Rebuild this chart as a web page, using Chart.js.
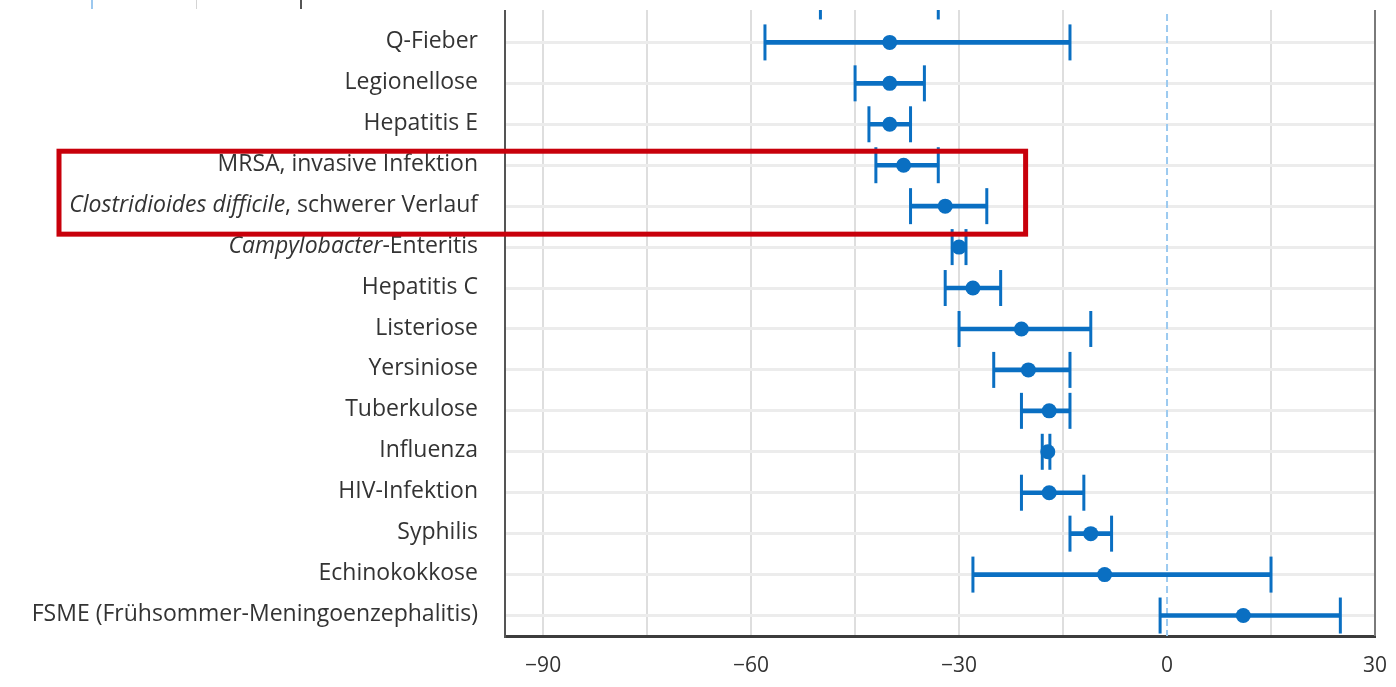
<!DOCTYPE html>
<html lang="de">
<head>
<meta charset="utf-8">
<title>Forest plot</title>
<script src="https://cdn.jsdelivr.net/npm/chart.js@4.4.1/dist/chart.umd.min.js"></script>
<style>
  html, body { margin: 0; padding: 0; background: #fff; overflow: hidden; width: 1396px; height: 687px; }
  #wrap { position: absolute; left: 0; top: -60px; width: 1396px; height: 746px; }
  #topMask { position: absolute; left: 0; top: 0; width: 1396px; height: 10px; background: #fff; }
  .frag { position: absolute; top: 0; height: 9px; }
</style>
</head>
<body>
<div id="wrap"><canvas id="forestChart"></canvas></div>
<div id="topMask">
  <div class="frag" style="left:91px;width:2px;background:#9cc8ef"></div>
  <div class="frag" style="left:196px;width:1px;background:#d4d4d4"></div>
  <div class="frag" style="left:300px;width:2px;background:#555"></div>
</div>
<script>
// ----------- data ------------------------//
// first row is cut off at the top of the picture, its name is not visible
const categories = [
  '',
  'Q-Fieber',
  'Legionellose',
  'Hepatitis E',
  'MRSA, invasive Infektion',
  'Clostridioides difficile, schwerer Verlauf',
  'Campylobacter-Enteritis',
  'Hepatitis C',
  'Listeriose',
  'Yersiniose',
  'Tuberkulose',
  'Influenza',
  'HIV-Infektion',
  'Syphilis',
  'Echinokokkose',
  'FSME (Frühsommer-Meningoenzephalitis)'
];
const estimates = [-41, -40, -40, -40, -38, -32, -30, -28, -21, -20, -17, -17.2, -17, -11, -9, 11];
const lowerCI   = [-50, -58, -45, -43, -42, -37, -31, -32, -30, -25, -21, -18, -21, -14, -28, -1];
const upperCI   = [-33, -14, -35, -37, -33, -26, -29, -24, -11, -14, -14, -16.9, -12, -8, 15, 25];
const xTicks = [-90, -75, -60, -45, -30, -15, 0, 15, 30];

const italicParts = {
  'Clostridioides difficile, schwerer Verlauf': 'Clostridioides difficile',
  'Campylobacter-Enteritis': 'Campylobacter'
};
const highlighted = ['MRSA, invasive Infektion', 'Clostridioides difficile, schwerer Verlauf'];

const blue = '#0a6fc2';
const fontFamily = '"Open Sans", "Noto Sans", sans-serif';
const fontSize = 23;

// ----------- plugins ------------------------//
const zeroLine = {
  id: 'zeroLine',
  beforeDatasetsDraw(chart) {
    const { ctx, chartArea: { top, bottom, right }, scales: { x } } = chart;
    const xPos = x.getPixelForValue(0);
    ctx.save();
    ctx.beginPath();
    ctx.setLineDash([7, 4]);
    ctx.strokeStyle = '#9ccaf0';
    ctx.lineWidth = 2;
    ctx.moveTo(xPos, top);
    ctx.lineTo(xPos, bottom);
    ctx.stroke();
    // right frame
    ctx.setLineDash([]);
    ctx.beginPath();
    ctx.strokeStyle = '#7a7a7a';
    ctx.lineWidth = 2;
    ctx.moveTo(right, top);
    ctx.lineTo(right, bottom);
    ctx.stroke();
    ctx.restore();
  }
};

const categoryLabels = {
  id: 'categoryLabels',
  afterDraw(chart) {
    const { ctx, scales: { y } } = chart;
    ctx.save();
    ctx.fillStyle = '#333';
    ctx.textBaseline = 'middle';
    ctx.textAlign = 'right';
    categories.forEach((label, i) => {
      if (!label) return;
      const yPos = y.getPixelForValue(i) - 1;
      const italic = italicParts[label] || '';
      const rest = label.slice(italic.length);
      let xPos = y.right - 27;
      ctx.font = `${fontSize}px ${fontFamily}`;
      ctx.fillText(rest, xPos, yPos);
      if (italic) {
        xPos -= ctx.measureText(rest).width;
        ctx.font = `italic ${fontSize}px ${fontFamily}`;
        ctx.fillText(italic, xPos, yPos);
      }
    });
    ctx.restore();
  }
};

const highlightBox = {
  id: 'highlightBox',
  afterDraw(chart) {
    const { ctx, scales: { x, y } } = chart;
    const first = categories.indexOf(highlighted[0]);
    const last = categories.indexOf(highlighted[highlighted.length - 1]);
    const top = y.getPixelForValue(first) - 14;
    const bottom = y.getPixelForValue(last) + 28;
    const left = 59;
    const right = x.getPixelForValue(-20.4);
    ctx.save();
    ctx.strokeStyle = '#c8000b';
    ctx.lineWidth = 5;
    ctx.strokeRect(left, top, right - left, bottom - top);
    ctx.restore();
  }
};

// ----------- chart ------------------------//
const ctx = document.getElementById('forestChart').getContext('2d');

new Chart(ctx, {
  type: 'bar',
  data: {
    labels: categories,
    datasets: [
      {
        label: 'Konfidenzintervall',
        data: lowerCI.map((lo, i) => [lo, upperCI[i]]),
        backgroundColor: blue,
        barThickness: 4,
        borderSkipped: false,
        order: 3
      },
      {
        type: 'line',
        label: 'untere Grenze',
        data: lowerCI,
        showLine: false,
        pointStyle: 'line',
        rotation: 90,
        pointRadius: 18,
        pointBorderWidth: 3,
        borderColor: blue,
        order: 2
      },
      {
        type: 'line',
        label: 'obere Grenze',
        data: upperCI,
        showLine: false,
        pointStyle: 'line',
        rotation: 90,
        pointRadius: 18,
        pointBorderWidth: 3,
        borderColor: blue,
        order: 2
      },
      {
        type: 'line',
        label: 'Schätzer',
        data: estimates,
        showLine: false,
        pointRadius: 7.5,
        pointBorderWidth: 0,
        backgroundColor: blue,
        borderColor: blue,
        order: 1
      }
    ]
  },
  options: {
    indexAxis: 'y',
    responsive: true,
    maintainAspectRatio: false,
    animation: false,
    layout: { padding: { top: 41, right: 19, bottom: 0, left: 0 } },
    plugins: {
      legend: { display: false },
      tooltip: { enabled: false }
    },
    scales: {
      x: {
        type: 'linear',
        position: 'bottom',
        min: -95.5,
        max: 30,
        afterBuildTicks: (scale) => {
          scale.ticks = xTicks.map(v => ({ value: v }));
        },
        afterFit: (scale) => {
          scale.height = 50;
          scale.paddingRight = 0;
          scale.paddingLeft = 0;
        },
        ticks: {
          color: '#333',
          padding: 17,
          maxRotation: 0,
          font: { family: fontFamily, size: 21 },
          callback: (v) => v % 30 === 0 ? (v < 0 ? '\u2212' + Math.abs(v) : String(v)) : ''
        },
        grid: {
          drawTicks: false,
          lineWidth: 2,
          color: (c) => c.tick && c.tick.value === 0 ? 'rgba(0,0,0,0)' : '#dedede'
        },
        border: { display: true, color: '#3c3c3c', width: 3 }
      },
      y: {
        type: 'category',
        afterFit: (scale) => { scale.width = 505; },
        ticks: { display: false },
        grid: {
          offset: false,
          drawTicks: false,
          lineWidth: 3,
          color: '#ececec'
        },
        border: { display: true, color: '#555', width: 2 }
      }
    }
  },
  plugins: [zeroLine, categoryLabels, highlightBox]
});
</script>
</body>
</html>
